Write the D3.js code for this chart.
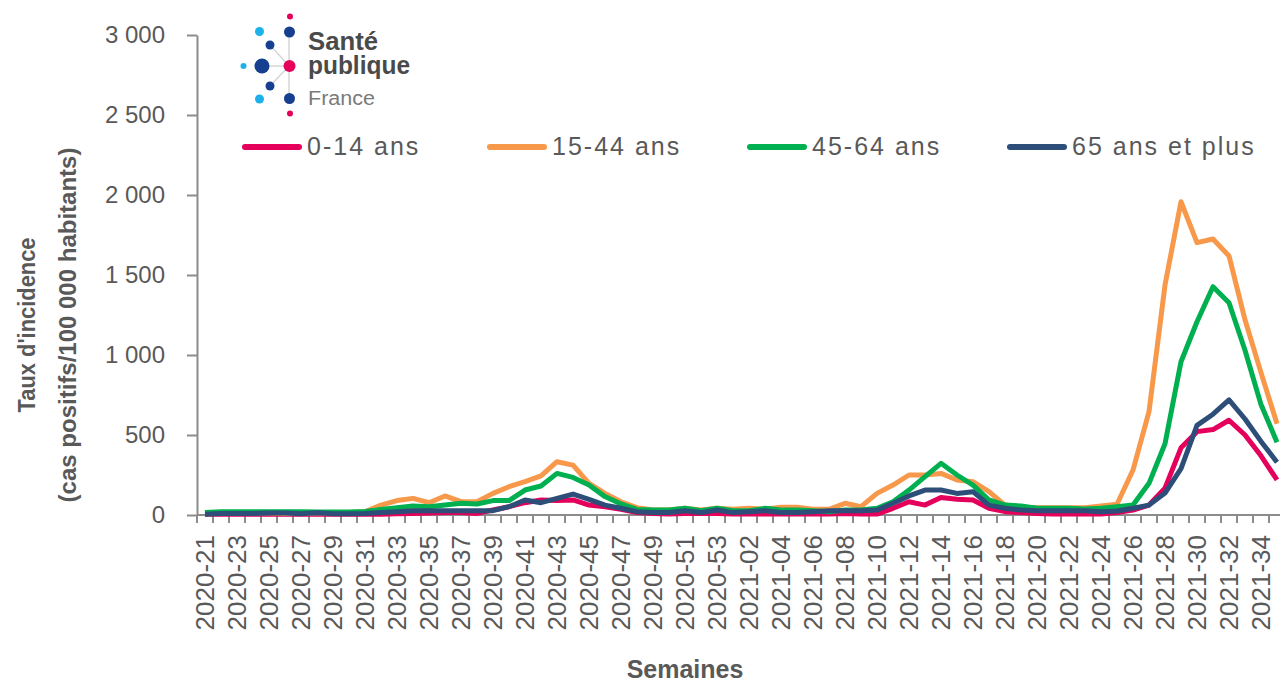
<!DOCTYPE html>
<html>
<head>
<meta charset="utf-8">
<script src="https://cdn.jsdelivr.net/npm/d3@7"></script>
<style>
  body { margin: 0; background: #fff; }
  text { font-family: "Liberation Sans", Arial, sans-serif; }
</style>
</head>
<body>
<svg width="1280" height="682"></svg>
<script>
const width = 1280, height = 682;

// weeks (ISO)
const weeks = [
  "2020-21","2020-22","2020-23","2020-24","2020-25","2020-26","2020-27","2020-28","2020-29","2020-30",
  "2020-31","2020-32","2020-33","2020-34","2020-35","2020-36","2020-37","2020-38","2020-39","2020-40",
  "2020-41","2020-42","2020-43","2020-44","2020-45","2020-46","2020-47","2020-48","2020-49","2020-50",
  "2020-51","2020-52","2020-53","2021-01","2021-02","2021-03","2021-04","2021-05","2021-06","2021-07",
  "2021-08","2021-09","2021-10","2021-11","2021-12","2021-13","2021-14","2021-15","2021-16","2021-17",
  "2021-18","2021-19","2021-20","2021-21","2021-22","2021-23","2021-24","2021-25","2021-26","2021-27",
  "2021-28","2021-29","2021-30","2021-31","2021-32","2021-33","2021-34","2021-35"
];

const age0_14 = [
  5,5,5,5,5,5,5,5,5,5,5,
  5,8,10,12,15,15,10,31,52,77,
  94,90,94,62,52,35,15,10,6,10,
  10,10,6,6,6,6,6,6,6,10,
  6,6,42,83,62,110,98,94,42,21,
  15,10,6,6,6,6,15,31,62,168,
  420,521,534,592,500,370,219
];
const age15_44 = [
  8,10,12,12,12,10,10,12,12,15,20,
  62,90,104,77,119,83,83,135,177,208,
  244,333,312,198,135,83,46,31,31,42,
  31,42,36,42,36,48,48,36,36,73,
  52,135,187,250,250,260,219,208,146,62,
  48,46,46,46,46,56,67,281,646,1437,
  1958,1702,1725,1619,1220,890,570
];
const age45_64 = [
  15,20,20,20,20,20,20,18,18,18,22,
  35,46,56,52,62,73,69,90,90,156,
  181,260,235,187,115,69,35,31,31,42,
  27,42,27,27,42,31,31,27,21,31,
  31,42,83,156,240,323,250,187,94,62,
  56,42,42,42,37,42,52,62,198,445,
  958,1208,1427,1327,1030,690,455
];
const age65 = [
  5,10,10,10,12,12,8,14,8,8,10,
  15,21,27,27,27,27,27,27,52,94,
  77,104,131,98,62,42,21,15,15,27,
  15,31,15,21,27,15,15,21,27,27,
  27,31,73,119,156,156,135,146,62,42,
  31,27,27,27,27,21,25,42,62,137,
  290,560,630,719,600,460,330
];

const seriesNames = ["0-14 ans", "15-44 ans", "45-64 ans", "65 ans et plus"];
const seriesValues = [age0_14, age15_44, age45_64, age65];
const colors = ["#e4005b", "#f7984a", "#00b050", "#2d4e79"];
const yTicks = [0, 500, 1000, 1500, 2000, 2500, 3000];

const svg = d3.select("svg");
svg.append("rect").attr("width", width).attr("height", height).attr("fill", "#fff");

const plotLeft = 197, plotTop = 35, plotBottom = 515;
const x = d3.scaleBand().domain(weeks).range([plotLeft, plotLeft + weeks.length * 16]);
const y = d3.scaleLinear().domain([0, 3000]).range([plotBottom, plotTop]);

const fr = d3.formatLocale({decimal: ",", thousands: " ", grouping: [3], currency: ["", " €"]});
const fmt = fr.format(",d");

// y axis
const yAxis = svg.append("g")
    .attr("transform", `translate(${plotLeft},0)`)
    .call(d3.axisLeft(y).tickValues(yTicks).tickFormat(fmt).tickSize(10).tickSizeOuter(0).tickPadding(22));
yAxis.select(".domain").attr("stroke", "#8c8c8c").attr("stroke-width", 2);
yAxis.selectAll(".tick line").attr("stroke", "#8c8c8c").attr("stroke-width", 2);
yAxis.selectAll(".tick text")
    .attr("fill", "#595959")
    .attr("font-size", "24px")
    .attr("font-family", "Liberation Sans, Arial, sans-serif");

// x axis
const xg = svg.append("g");
xg.append("line")
    .attr("x1", plotLeft).attr("x2", width)
    .attr("y1", plotBottom).attr("y2", plotBottom)
    .attr("stroke", "#8c8c8c").attr("stroke-width", 2);
xg.selectAll(".xtick")
    .data(weeks)
    .enter().append("line")
    .attr("x1", d => x(d)).attr("x2", d => x(d))
    .attr("y1", plotBottom).attr("y2", plotBottom + 8)
    .attr("stroke", "#8c8c8c").attr("stroke-width", 2);
xg.selectAll(".xlab")
    .data(weeks.filter((d, i) => i % 2 === 0))
    .enter().append("text")
    .attr("transform", d => `translate(${x(d) + x.bandwidth() / 2},535) rotate(-90)`)
    .attr("text-anchor", "end")
    .attr("dy", "0.36em")
    .attr("fill", "#595959")
    .attr("font-size", "26px")
    .text(d => d);

// lines
const line = d3.line()
    .x((d, i) => x(weeks[i]) + x.bandwidth() / 2)
    .y(d => y(d));

svg.append("g")
    .selectAll("path")
    .data(seriesValues)
    .enter().append("path")
    .attr("d", d => line(d))
    .attr("fill", "none")
    .attr("stroke", (d, i) => colors[i])
    .attr("stroke-width", 5)
    .attr("stroke-linejoin", "round");

// axis titles
const yt = svg.append("text")
    .attr("transform", "translate(0,325) rotate(-90)")
    .attr("text-anchor", "middle")
    .attr("font-weight", "bold")
    .attr("fill", "#595959");
yt.append("tspan").attr("x", 0).attr("y", 35).attr("font-size", "23px")
    .attr("textLength", 175).attr("lengthAdjust", "spacingAndGlyphs")
    .text("Taux d'incidence");
yt.append("tspan").attr("x", 0).attr("y", 76).attr("font-size", "24px")
    .text("(cas positifs/100 000 habitants)");

svg.append("text")
    .attr("x", 685).attr("y", 678)
    .attr("text-anchor", "middle")
    .attr("font-weight", "bold")
    .attr("font-size", "25px")
    .attr("fill", "#595959")
    .text("Semaines");

// legend
const legendX = [242, 487, 747, 1007];
const legend = svg.selectAll(".legend")
    .data(seriesNames)
    .enter().append("g")
    .attr("class", "legend")
    .attr("transform", (d, i) => `translate(${legendX[i]},147)`);
legend.append("line")
    .attr("x1", 3).attr("x2", 57)
    .attr("stroke", (d, i) => colors[i])
    .attr("stroke-width", 6)
    .attr("stroke-linecap", "round");
legend.append("text")
    .attr("x", 65).attr("y", 8)
    .attr("fill", "#595959")
    .attr("font-size", "25px")
    .attr("letter-spacing", "2px")
    .text(d => d);

// logo Santé publique France
const logo = svg.append("g");
const links = [[289, 32, 289, 98], [262, 66, 289, 66], [270, 45, 289, 66], [270, 86, 289, 66]];
logo.selectAll("line").data(links).enter().append("line")
    .attr("x1", d => d[0]).attr("y1", d => d[1]).attr("x2", d => d[2]).attr("y2", d => d[3])
    .attr("stroke", "#d6d6d6").attr("stroke-width", 1.5);
const dots = [
  [290, 16.5, 3, "#e4005b"], [289.5, 32, 5.5, "#173f8f"], [259.5, 31.5, 4.5, "#1cb1ea"],
  [270, 45, 4.5, "#173f8f"], [262, 66, 7.5, "#173f8f"], [243.5, 66, 3, "#1cb1ea"],
  [289.5, 66, 6, "#e4005b"], [270, 86, 4.5, "#173f8f"], [259.5, 99, 4.5, "#1cb1ea"],
  [289.5, 98.5, 5.5, "#173f8f"], [290, 113.5, 3, "#e4005b"]
];
logo.selectAll("circle").data(dots).enter().append("circle")
    .attr("cx", d => d[0]).attr("cy", d => d[1]).attr("r", d => d[2]).attr("fill", d => d[3]);
logo.append("text").attr("x", 308).attr("y", 50)
    .attr("font-size", "25px").attr("font-weight", "bold").attr("fill", "#4a4a4a")
    .attr("textLength", 70).attr("lengthAdjust", "spacingAndGlyphs").text("Santé");
logo.append("text").attr("x", 308).attr("y", 74)
    .attr("font-size", "25px").attr("font-weight", "bold").attr("fill", "#4a4a4a")
    .attr("textLength", 102).attr("lengthAdjust", "spacingAndGlyphs").text("publique");
logo.append("text").attr("x", 308).attr("y", 105)
    .attr("font-size", "20px").attr("fill", "#7a7a7a")
    .attr("textLength", 67).attr("lengthAdjust", "spacingAndGlyphs").text("France");
</script>
</body>
</html>
